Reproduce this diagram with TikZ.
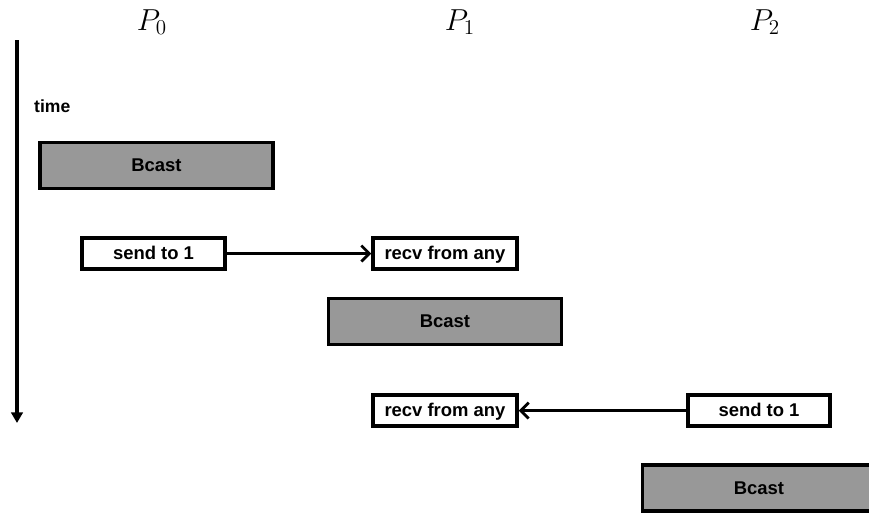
\documentclass[tikz,border=0pt]{standalone}
\usepackage{fontspec}
\setsansfont{Liberation Sans}
\usetikzlibrary{arrows.meta}
\definecolor{bcastgray}{RGB}{152,152,152}

\begin{document}
\begin{tikzpicture}[x=0.02cm, y=-0.02cm,
        op/.style={draw, line width=2pt, inner sep=0pt, minimum height=31*0.02cm,
            text height=7.5pt, text depth=0.5pt,
            font=\sffamily\bfseries\fontsize{10.5}{12}\selectfont},
        bcast/.style={op, fill=bcastgray, minimum width=233*0.02cm, minimum height=46*0.02cm},
        msg/.style={line width=1.5pt, -{Straight Barb[length=4.5pt,width=9pt,line width=1.6pt]}}]
    \path[use as bounding box] (0,0) rectangle (869,512);
    \clip (0,0) rectangle (869,512);

    % process labels
    \node (p0) at (152,22) {\LARGE $P_0$};
    \node (p1) at (460,22) {\LARGE $P_1$};
    \node (p2) at (765,22) {\LARGE $P_2$};

    % time axis
    \coordinate (tstart) at (17,40);
    \coordinate (tend) at (17,423);
    \draw[line width=2pt, -{Triangle[length=6pt,width=6.5pt]}] (tstart) -- (tend);
    \node[anchor=west, font=\sffamily\bfseries\fontsize{10}{11}\selectfont] (time) at (28,106) {time};

    % operations
    \node[bcast] (bc0) at (156.5,165.5) {Bcast};
    \node[op, minimum width=143*0.02cm] (send0) at (153.5,253.5) {send to 1};
    \node[op, minimum width=144*0.02cm] (recv1) at (445,253.5) {recv from any};
    \node[bcast] (bc1) at (445,321.5) {Bcast};
    \node[op, minimum width=144*0.02cm] (recv2) at (445,410.5) {recv from any};
    \node[op, minimum width=142*0.02cm] (send2) at (759,410.5) {send to 1};
    \node[bcast] (bc2) at (759,488) {Bcast};

    % messages
    \draw[msg] (send0) -- (recv1);
    \draw[msg] (send2) -- (recv2);
\end{tikzpicture}
\end{document}
